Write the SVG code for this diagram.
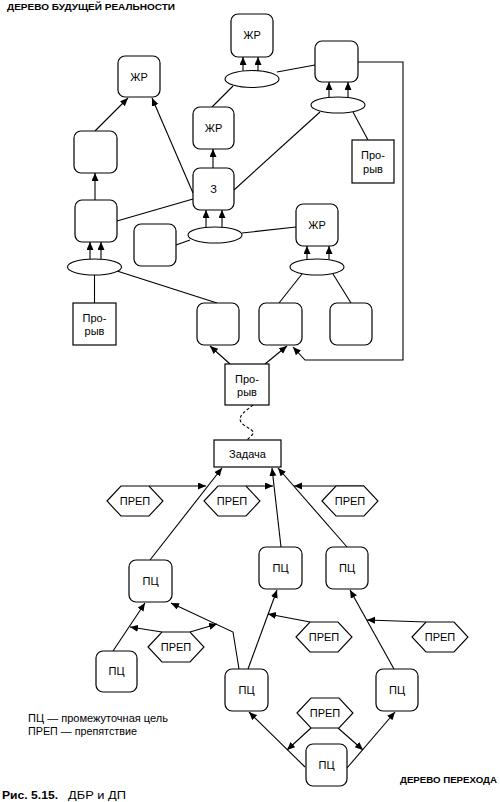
<svg xmlns="http://www.w3.org/2000/svg" width="500" height="802" viewBox="0 0 500 802">
<defs>
<marker id="ah" markerUnits="userSpaceOnUse" markerWidth="9" markerHeight="8" refX="8" refY="3.5" orient="auto">
<path d="M0,0 L8,3.5 L0,7 z" fill="#000"/>
</marker>
<style>
.box{fill:#fff;stroke:#000;stroke-width:1.2}
.sq{fill:#fff;stroke:#000;stroke-width:1.2}
.ell{fill:#fff;stroke:#000;stroke-width:1.1}
.hex{fill:#fff;stroke:#000;stroke-width:1.1}
.ln{fill:none;stroke:#000;stroke-width:1.1}
.ar{fill:none;stroke:#000;stroke-width:1.1;marker-end:url(#ah)}
.t{font-family:"Liberation Sans",Arial,sans-serif;font-size:11px;text-anchor:middle;fill:#000}
.h{font-family:"Liberation Sans",Arial,sans-serif;font-weight:bold;font-size:9.8px;fill:#000}
.lg{font-family:"Liberation Sans",Arial,sans-serif;font-size:10px;fill:#000}
</style>
</defs>
<rect width="500" height="802" fill="#fff"/>

<text class="h" x="7" y="10" textLength="168" lengthAdjust="spacingAndGlyphs">ДЕРЕВО БУДУЩЕЙ РЕАЛЬНОСТИ</text>

<g id="connectors">
<line class="ar" x1="243" y1="71" x2="243" y2="57"/>
<line class="ar" x1="258" y1="71" x2="258" y2="57"/>
<line class="ln" x1="233" y1="86" x2="212" y2="107"/>
<line class="ln" x1="277" y1="72" x2="315" y2="65"/>
<line class="ar" x1="329" y1="97" x2="329" y2="82"/>
<line class="ar" x1="348" y1="97" x2="348" y2="82"/>
<line class="ln" x1="320" y1="112" x2="234" y2="190"/>
<line class="ln" x1="353" y1="112" x2="368" y2="140"/>
<polyline class="ar" points="358,62 403,62 403,360 305,360 293,347"/>
<line class="ar" x1="213" y1="168" x2="213" y2="149"/>
<line class="ar" x1="193" y1="193" x2="152" y2="98"/>
<line class="ar" x1="95" y1="131" x2="128" y2="98"/>
<line class="ar" x1="95" y1="200" x2="95" y2="173"/>
<line class="ln" x1="117" y1="221" x2="193" y2="199"/>
<line class="ar" x1="206" y1="227" x2="206" y2="210"/>
<line class="ar" x1="222" y1="227" x2="222" y2="210"/>
<line class="ln" x1="176" y1="245" x2="190" y2="240"/>
<line class="ln" x1="242" y1="233" x2="296" y2="227"/>
<line class="ar" x1="307" y1="259" x2="307" y2="246"/>
<line class="ar" x1="329" y1="259" x2="329" y2="246"/>
<line class="ln" x1="302" y1="274" x2="279" y2="303"/>
<line class="ln" x1="333" y1="274" x2="351" y2="303"/>
<line class="ar" x1="90" y1="259" x2="90" y2="242"/>
<line class="ar" x1="101" y1="259" x2="101" y2="242"/>
<line class="ln" x1="94.5" y1="275" x2="94.5" y2="303"/>
<line class="ln" x1="117" y1="271" x2="217" y2="303"/>
<line class="ar" x1="230" y1="364" x2="210" y2="346"/>
<line class="ar" x1="265" y1="364" x2="287" y2="346"/>
<path class="ln" stroke-dasharray="3,2" d="M253,405 C247,410 237,416 241,422 C245,428 257,430 252,435 L247,440"/>
<line class="ar" x1="150" y1="560" x2="222" y2="468"/>
<line class="ar" x1="281" y1="547" x2="272" y2="468"/>
<line class="ar" x1="347" y1="547" x2="278" y2="468"/>
<line class="ar" x1="149" y1="486" x2="206" y2="486"/>
<line class="ar" x1="246" y1="486" x2="273" y2="486"/>
<line class="ar" x1="364" y1="486" x2="294" y2="486"/>
<line class="ar" x1="113" y1="651" x2="145" y2="603"/>
<polyline class="ar" points="239,669 233,632 171,603"/>
<line class="ar" x1="162" y1="632" x2="130" y2="627"/>
<line class="ar" x1="190" y1="632" x2="217" y2="624"/>
<line class="ar" x1="248" y1="669" x2="277" y2="590"/>
<line class="ar" x1="310" y1="622" x2="268" y2="614"/>
<line class="ar" x1="394" y1="669" x2="350" y2="590"/>
<line class="ar" x1="426" y1="622" x2="367" y2="620"/>
<line class="ar" x1="305" y1="767" x2="249" y2="712"/>
<line class="ar" x1="347" y1="768" x2="395" y2="712"/>
<line class="ar" x1="311" y1="728" x2="287" y2="750"/>
<line class="ar" x1="338" y1="728" x2="363" y2="750"/>
</g>

<g id="n_zhr_topleft"><rect class="box" x="118" y="56" width="42" height="41" rx="7"/><text class="t" x="139" y="80.5">ЖР</text></g>
<g id="n_left2"><rect class="box" x="74" y="131" width="43" height="42" rx="7"/></g>
<g id="n_left3"><rect class="box" x="75" y="200" width="42" height="42" rx="7"/></g>
<g id="n_zhr_center"><rect class="box" x="193" y="107" width="41" height="42" rx="7"/><text class="t" x="213.5" y="132">ЖР</text></g>
<g id="n_z"><rect class="box" x="193" y="168" width="41" height="42" rx="7"/><text class="t" x="213.5" y="193">З</text></g>
<g id="n_zhr_top"><rect class="box" x="231" y="14" width="42" height="43" rx="7"/><text class="t" x="252" y="39">ЖР</text></g>
<g id="n_topright"><rect class="box" x="315" y="41" width="43" height="41" rx="7"/></g>
<g id="e_top"><ellipse class="ell" cx="252" cy="79" rx="27" ry="8.5"/></g>
<g id="e_right"><ellipse class="ell" cx="338" cy="105" rx="27" ry="8"/></g>
<g id="n_proryv_right"><rect class="sq" x="352" y="140" width="42" height="43"/><text class="t" x="373" y="159">Про-</text><text class="t" x="373" y="173">рыв</text></g>
<g id="e_z"><ellipse class="ell" cx="215" cy="235" rx="27" ry="8"/></g>
<g id="n_empty_mid"><rect class="box" x="134" y="224" width="42" height="42" rx="7"/></g>
<g id="n_zhr_right"><rect class="box" x="296" y="204" width="42" height="42" rx="7"/><text class="t" x="317" y="229">ЖР</text></g>
<g id="e_zhr_right"><ellipse class="ell" cx="317" cy="267" rx="27" ry="8"/></g>
<g id="e_left"><ellipse class="ell" cx="94.5" cy="267" rx="27" ry="8"/></g>
<g id="n_proryv_left"><rect class="sq" x="73" y="303" width="43" height="42"/><text class="t" x="94.5" y="322">Про-</text><text class="t" x="94.5" y="335">рыв</text></g>
<g id="n_b1"><rect class="box" x="197" y="303" width="42" height="42" rx="7"/></g>
<g id="n_b2"><rect class="box" x="259" y="303" width="43" height="42" rx="7"/></g>
<g id="n_b3"><rect class="box" x="330" y="303" width="42" height="42" rx="7"/></g>
<g id="n_proryv_mid"><rect class="sq" x="225" y="364" width="44" height="41"/><text class="t" x="247" y="383">Про-</text><text class="t" x="247" y="396">рыв</text></g>

<g id="n_zadacha"><rect class="sq" x="214" y="440" width="67" height="27"/><text class="t" x="247.5" y="457.5">Задача</text></g>

<g id="h1"><polygon class="hex" points="107,501 121,486 149,486 163,501 149,516 121,516"/><text class="t" x="135" y="505">ПРЕП</text></g>
<g id="h2"><polygon class="hex" points="204,501 218,486 246,486 260,501 246,516 218,516"/><text class="t" x="232" y="505">ПРЕП</text></g>
<g id="h3"><polygon class="hex" points="322,501 336,486 364,486 378,501 364,516 336,516"/><text class="t" x="350" y="505">ПРЕП</text></g>
<g id="h4"><polygon class="hex" points="148,647 162,632 190,632 204,647 190,662 162,662"/><text class="t" x="176" y="651">ПРЕП</text></g>
<g id="h5"><polygon class="hex" points="296,637 310,622 338,622 352,637 338,652 310,652"/><text class="t" x="324" y="641">ПРЕП</text></g>
<g id="h6"><polygon class="hex" points="412,637 426,622 454,622 468,637 454,652 426,652"/><text class="t" x="440" y="641">ПРЕП</text></g>
<g id="h7"><polygon class="hex" points="297,713 311,698 339,698 353,713 339,728 311,728"/><text class="t" x="325" y="717">ПРЕП</text></g>

<g id="pc1"><rect class="box" x="129" y="560" width="43" height="42" rx="7"/><text class="t" x="150.5" y="585">ПЦ</text></g>
<g id="pc2"><rect class="box" x="259" y="547" width="43" height="42" rx="7"/><text class="t" x="280.5" y="572">ПЦ</text></g>
<g id="pc3"><rect class="box" x="326" y="547" width="42" height="42" rx="7"/><text class="t" x="347" y="572">ПЦ</text></g>
<g id="pc4"><rect class="box" x="96" y="651" width="41" height="41" rx="7"/><text class="t" x="116.5" y="675">ПЦ</text></g>
<g id="pc5"><rect class="box" x="225" y="669" width="43" height="42" rx="7"/><text class="t" x="246.5" y="694">ПЦ</text></g>
<g id="pc6"><rect class="box" x="376" y="669" width="42" height="42" rx="7"/><text class="t" x="397" y="694">ПЦ</text></g>
<g id="pc7"><rect class="box" x="306" y="744" width="41" height="42" rx="7"/><text class="t" x="326.5" y="769">ПЦ</text></g>

<text class="lg" x="28" y="722" textLength="140" lengthAdjust="spacingAndGlyphs">ПЦ — промежуточная цель</text>
<text class="lg" x="28" y="735" textLength="109" lengthAdjust="spacingAndGlyphs">ПРЕП — препятствие</text>
<text class="h" x="400" y="783" textLength="97" lengthAdjust="spacingAndGlyphs">ДЕРЕВО ПЕРЕХОДА</text>
<text x="2" y="799" font-family="Liberation Sans, Arial, sans-serif" font-weight="bold" font-size="11" textLength="56" lengthAdjust="spacingAndGlyphs">Рис. 5.15.</text>
<text x="68" y="799" font-family="Liberation Sans, Arial, sans-serif" font-size="11" textLength="58" lengthAdjust="spacingAndGlyphs">ДБР и ДП</text>
</svg>
